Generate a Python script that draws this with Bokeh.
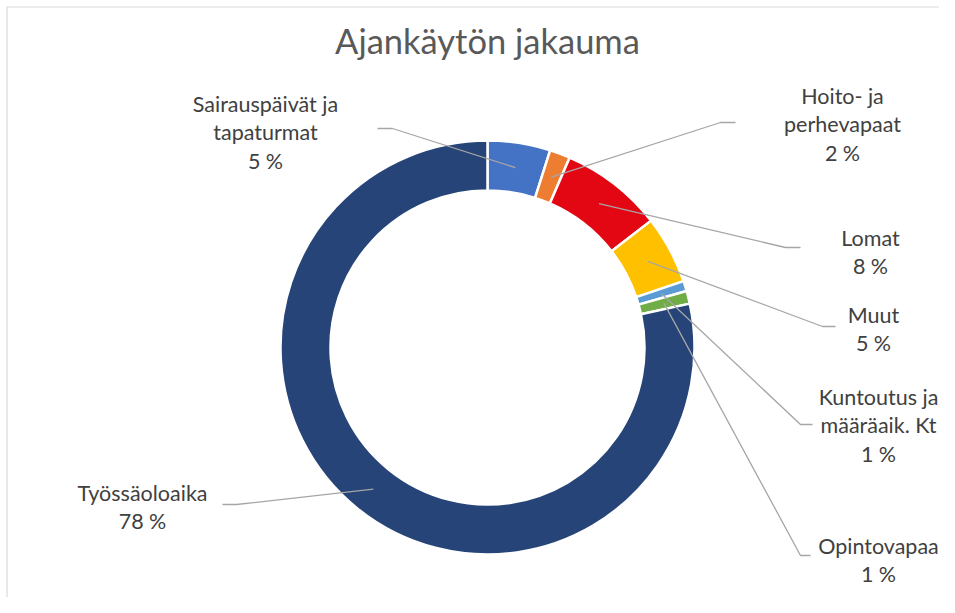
import math
from bokeh.plotting import figure
from bokeh.models import Range1d
from bokeh.core.properties import value
from bokeh.embed import file_html
from bokeh.resources import INLINE

# ---- data ----
categories = ["Sairauspäivät ja tapaturmat", "Hoito- ja perhevapaat", "Lomat", "Muut",
              "Kuntoutus ja määräaik. Kt", "Opintovapaa", "Työssäoloaika"]
label_lines = [["Sairauspäivät ja", "tapaturmat"], ["Hoito- ja", "perhevapaat"], ["Lomat"], ["Muut"],
               ["Kuntoutus ja", "määräaik. Kt"], ["Opintovapaa"], ["Työssäoloaika"]]
shares = [4.9, 1.6, 8.0, 5.3, 0.8, 1.0, 78.4]
colors = ["#4472C4", "#ED7D31", "#E30613", "#FFC000", "#5B9BD5", "#70AD47", "#264478"]
title_text = "Ajankäytön jakauma"

# ---- layout (picture pixel coords) ----
W, H = 939, 597
CX, CY = 487, 347
R_OUT, R_IN, R_LEAD = 207, 157, 182
elbows = [(392, 128), (720, 122), (785, 247), (822, 326), (800, 424), (800, 555), (236, 504)]
ends = [(377, 128), (735, 122), (800, 247), (835, 326), (812, 424), (810, 555), (222, 504)]
text_x = [265, 842, 870, 873, 878, 878, 142]
text_y0 = [103, 95, 237, 314, 396, 545, 492]
LINE_H = 28.7

p = figure(width=W, height=H, x_range=Range1d(0, W), y_range=Range1d(-H, 0),
           output_backend="svg", toolbar_location=None, min_border=0)
p.axis.visible = False
p.grid.visible = False
p.outline_line_color = None
p.background_fill_color = "white"
p.border_fill_color = "white"

# chart area border
p.quad(left=[6.5], right=[W + 20], top=[-6.5], bottom=[-(H + 20)],
       fill_color=None, line_color="#D9D9D9", line_width=1.2)

total = sum(shares)
starts, stops, mids = [], [], []
c = 0.0
for v in shares:
    a0 = math.pi / 2 - 2 * math.pi * c / total
    c += v
    a1 = math.pi / 2 - 2 * math.pi * c / total
    starts.append(a0)
    stops.append(a1)
    mids.append((a0 + a1) / 2)

p.annular_wedge(x=CX, y=-CY, inner_radius=R_IN, outer_radius=R_OUT,
                start_angle=starts, end_angle=stops, direction="clock",
                fill_color=colors, line_color="white", line_width=2.5)

# leader lines
xs, ys = [], []
for i, m in enumerate(mids):
    sx = CX + R_LEAD * math.cos(m)
    sy = -CY + R_LEAD * math.sin(m)
    xs.append([sx, elbows[i][0], ends[i][0]])
    ys.append([sy, -elbows[i][1], -ends[i][1]])
p.multi_line(xs=xs, ys=ys, line_color="#A6A6A6", line_width=1.3)

# labels
tx, ty, tt = [], [], []
for i, lines in enumerate(label_lines):
    allines = lines + [f"{round(shares[i])} %"]
    for j, t in enumerate(allines):
        tx.append(text_x[i])
        ty.append(-(text_y0[i] + j * LINE_H))
        tt.append(t)
p.text(x=tx, y=ty, text=tt, text_align="center", text_baseline="middle",
       text_font=value("Lato"), text_font_size=value("21.5px"), text_color="#404040")

p.text(x=[CX], y=[-40], text=[title_text], text_align="center", text_baseline="middle",
       text_font=value("Lato"), text_font_size=value("34.5px"), text_color="#595959")

open("out.html", "w").write(file_html(p, INLINE))
